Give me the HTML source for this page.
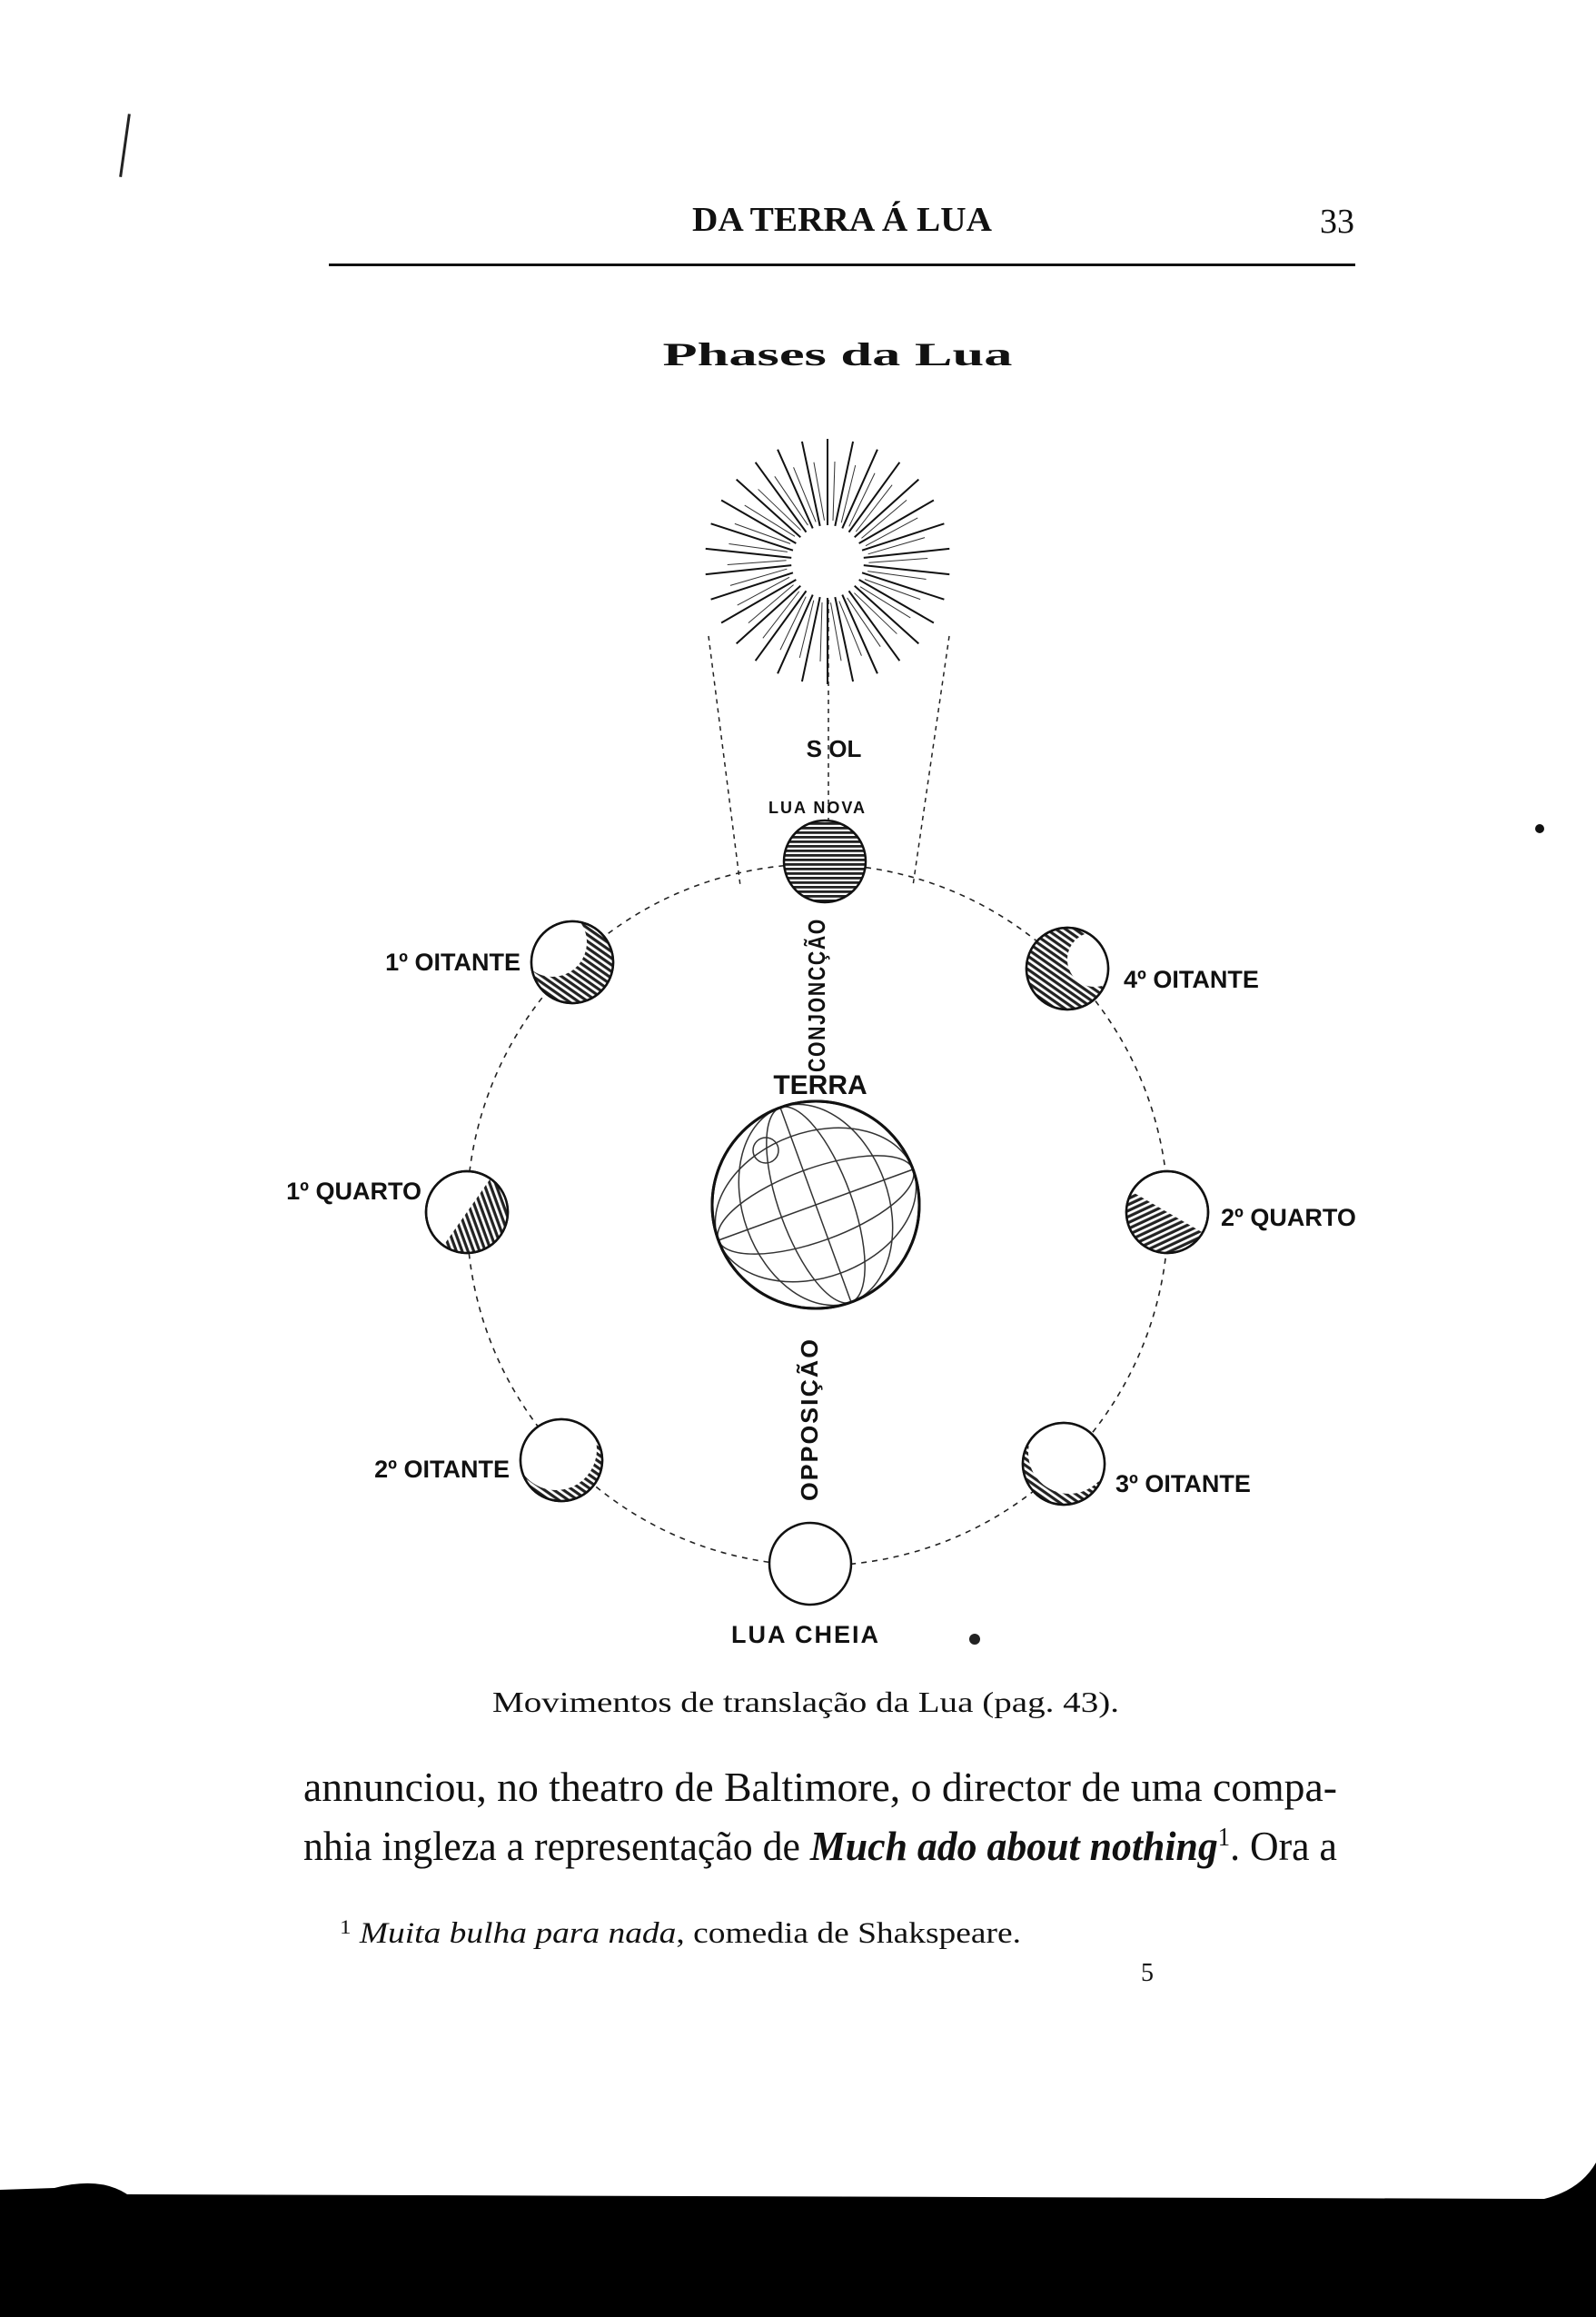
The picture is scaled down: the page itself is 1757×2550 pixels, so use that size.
<!DOCTYPE html>
<html><head><meta charset="utf-8"><style>
html,body{margin:0;padding:0;background:#fff}
svg{display:block}
text{font-family:"Liberation Serif",serif;fill:#111}
.s{font-family:"Liberation Sans",sans-serif}
</style></head><body>
<svg width="1757" height="2550" viewBox="0 0 1757 2550" xmlns="http://www.w3.org/2000/svg">
<defs>
<pattern id="h" width="6" height="6" patternUnits="userSpaceOnUse" patternTransform="rotate(35)">
<rect width="6" height="6" fill="#fff"/><rect width="6" height="3.2" fill="#222"/></pattern>
<pattern id="hz" width="5" height="5" patternUnits="userSpaceOnUse">
<rect width="5" height="5" fill="#fff"/><rect width="5" height="2.8" fill="#222"/></pattern>
<g id="ray"><line x1="0" y1="-40" x2="0" y2="-135" stroke="#111" stroke-width="2"/><line x1="6" y1="-45" x2="8" y2="-110" stroke="#333" stroke-width="1"/></g>
<g id="half"><path d="M0,-45 A45,45 0 0 1 0,45 Z" fill="url(#h)"/></g>
<clipPath id="mc"><circle r="45"/></clipPath>
</defs>

<!-- header -->
<text x="927" y="254" font-size="38" font-weight="bold" text-anchor="middle" textLength="330" lengthAdjust="spacingAndGlyphs">DA TERRA Á LUA</text>
<text x="1472" y="256" font-size="38" text-anchor="middle">33</text>
<rect x="362" y="290" width="1130" height="3" fill="#111"/>
<text x="922" y="402" font-size="36" font-weight="bold" text-anchor="middle" textLength="385" lengthAdjust="spacingAndGlyphs">Phases da Lua</text>

<!-- sun -->
<g transform="translate(911,618)">
<g>
<use href="#ray" transform="rotate(0)"/><use href="#ray" transform="rotate(12)"/><use href="#ray" transform="rotate(24)"/><use href="#ray" transform="rotate(36)"/><use href="#ray" transform="rotate(48)"/><use href="#ray" transform="rotate(60)"/><use href="#ray" transform="rotate(72)"/><use href="#ray" transform="rotate(84)"/><use href="#ray" transform="rotate(96)"/><use href="#ray" transform="rotate(108)"/><use href="#ray" transform="rotate(120)"/><use href="#ray" transform="rotate(132)"/><use href="#ray" transform="rotate(144)"/><use href="#ray" transform="rotate(156)"/><use href="#ray" transform="rotate(168)"/><use href="#ray" transform="rotate(180)"/><use href="#ray" transform="rotate(192)"/><use href="#ray" transform="rotate(204)"/><use href="#ray" transform="rotate(216)"/><use href="#ray" transform="rotate(228)"/><use href="#ray" transform="rotate(240)"/><use href="#ray" transform="rotate(252)"/><use href="#ray" transform="rotate(264)"/><use href="#ray" transform="rotate(276)"/><use href="#ray" transform="rotate(288)"/><use href="#ray" transform="rotate(300)"/><use href="#ray" transform="rotate(312)"/><use href="#ray" transform="rotate(324)"/><use href="#ray" transform="rotate(336)"/><use href="#ray" transform="rotate(348)"/>
</g>
<circle r="36" fill="#fff"/>
</g>
<!-- cone lines -->
<g stroke="#222" stroke-width="1.5" stroke-dasharray="5 5" fill="none">
<line x1="780" y1="700" x2="815" y2="975"/>
<line x1="1045" y1="700" x2="1005" y2="975"/>
<line x1="912" y1="660" x2="912" y2="905"/>
</g>
<text class="s" x="918" y="833" font-size="26" font-weight="bold" text-anchor="middle">S OL</text>
<text class="s" x="900" y="895" font-size="18" font-weight="bold" text-anchor="middle" letter-spacing="2">LUA NOVA</text>

<!-- orbit -->
<circle cx="900" cy="1337" r="386" fill="none" stroke="#222" stroke-width="1.6" stroke-dasharray="6 6"/>

<!-- moons -->
<g stroke="#111" stroke-width="2.5">
<circle cx="908" cy="948" r="45" fill="url(#hz)"/>
<circle cx="630" cy="1059" r="45" fill="#fff"/>
<circle cx="1175" cy="1066" r="45" fill="#fff"/>
<circle cx="514" cy="1334" r="45" fill="#fff"/>
<circle cx="1285" cy="1334" r="45" fill="#fff"/>
<circle cx="618" cy="1607" r="45" fill="#fff"/>
<circle cx="1171" cy="1611" r="45" fill="#fff"/>
<circle cx="892" cy="1721" r="45" fill="#fff"/>
</g>
<!-- shading -->
<g transform="translate(630,1059)"><g clip-path="url(#mc)"><circle r="45" fill="url(#h)"/><circle cx="-22" cy="-22" r="38" fill="#fff"/></g></g>
<g transform="translate(1175,1066)"><g clip-path="url(#mc)"><circle r="45" fill="url(#h)"/><circle cx="30" cy="-10" r="30" fill="#fff"/></g></g>
<g transform="translate(514,1334) rotate(35)"><use href="#half"/></g>
<g transform="translate(1285,1334) rotate(120)"><use href="#half"/></g>
<g transform="translate(618,1607)"><g clip-path="url(#mc)"><circle r="45" fill="url(#h)"/><circle cx="-6" cy="-12" r="45" fill="#fff"/></g></g>
<g transform="translate(1171,1611)"><g clip-path="url(#mc)"><circle r="45" fill="url(#h)"/><circle cx="6" cy="-12" r="45" fill="#fff"/></g></g>
<g stroke="#111" stroke-width="2.5" fill="none">
<circle cx="630" cy="1059" r="45"/><circle cx="1175" cy="1066" r="45"/><circle cx="514" cy="1334" r="45"/><circle cx="1285" cy="1334" r="45"/><circle cx="618" cy="1607" r="45"/><circle cx="1171" cy="1611" r="45"/>
</g>

<!-- earth -->
<g transform="translate(898,1326)">
<circle r="114" fill="#fff" stroke="#111" stroke-width="3"/>
<g stroke="#333" stroke-width="1.5" fill="none">
<ellipse rx="114" ry="40" transform="rotate(-20)"/>
<ellipse rx="114" ry="80" transform="rotate(-20)"/>
<ellipse rx="40" ry="114" transform="rotate(-20)"/>
<ellipse rx="80" ry="114" transform="rotate(-20)"/>
<line x1="-114" y1="0" x2="114" y2="0" transform="rotate(-20)"/>
<line x1="0" y1="-114" x2="0" y2="114" transform="rotate(-20)"/>
<circle cx="-55" cy="-60" r="14"/>
</g>
<circle r="114" fill="none" stroke="#111" stroke-width="3"/>
</g>

<!-- labels -->
<g class="s" font-weight="bold">
<text class="s" x="903" y="1204" text-anchor="middle" font-size="30" font-weight="bold">TERRA</text>
<text class="s" transform="translate(908,1180) rotate(-90)" font-size="26" font-weight="bold" letter-spacing="2" textLength="170" lengthAdjust="spacingAndGlyphs">CONJONCÇÃO</text>
<text class="s" transform="translate(900,1652) rotate(-90)" font-size="26" font-weight="bold" letter-spacing="2" textLength="180" lengthAdjust="spacingAndGlyphs">OPPOSIÇÃO</text>
<text class="s" x="887" y="1808" text-anchor="middle" font-size="27" font-weight="bold" letter-spacing="2">LUA CHEIA</text>
<text class="s" x="573" y="1068" text-anchor="end" font-size="27" font-weight="bold">1º OITANTE</text>
<text class="s" x="1237" y="1087" font-size="27" font-weight="bold">4º OITANTE</text>
<text class="s" x="464" y="1320" text-anchor="end" font-size="27" font-weight="bold">1º QUARTO</text>
<text class="s" x="1344" y="1349" font-size="27" font-weight="bold">2º QUARTO</text>
<text class="s" x="561" y="1626" text-anchor="end" font-size="27" font-weight="bold">2º OITANTE</text>
<text class="s" x="1228" y="1642" font-size="27" font-weight="bold">3º OITANTE</text>
</g>
<circle cx="1073" cy="1804" r="6" fill="#222"/>

<!-- caption & text -->
<text x="887" y="1884" font-size="32" text-anchor="middle" textLength="690" lengthAdjust="spacingAndGlyphs">Movimentos de translação da Lua (pag. 43).</text>
<text x="334" y="1982" font-size="46" textLength="1138" lengthAdjust="spacingAndGlyphs">annunciou, no theatro de Baltimore, o director de uma compa-</text>
<text x="334" y="2047" font-size="46" textLength="1138" lengthAdjust="spacingAndGlyphs">nhia ingleza a representação de <tspan font-weight="bold" font-style="italic">Much ado about nothing</tspan><tspan font-size="28" dy="-16">1</tspan><tspan dy="16">. Ora a</tspan></text>
<text x="374" y="2138" font-size="33" textLength="750" lengthAdjust="spacingAndGlyphs"><tspan font-size="22" dy="-10">1</tspan><tspan dy="10"> </tspan><tspan font-style="italic">Muita bulha para nada</tspan>, comedia de Shakspeare.</text>
<text x="1263" y="2180" font-size="28" text-anchor="middle">5</text>

<!-- margin marks -->
<rect x="136" y="125" width="3" height="70" fill="#222" transform="rotate(8 137 160)"/>
<circle cx="1695" cy="912" r="5" fill="#111"/>

<!-- bottom black band -->
<path d="M0,2410 L60,2408 Q110,2395 140,2415 L1700,2420 Q1740,2410 1757,2380 L1757,2550 L0,2550Z" fill="#000"/>
</svg>
</body></html>
